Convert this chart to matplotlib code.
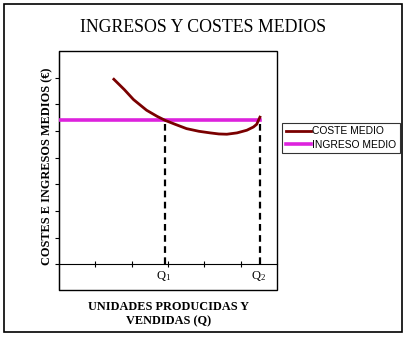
import numpy as np
import matplotlib
matplotlib.use("Agg")
import matplotlib.pyplot as plt
from matplotlib.patches import Rectangle

plt.rcParams['mathtext.fontset'] = 'custom'
plt.rcParams['mathtext.rm'] = 'Liberation Serif'
plt.rcParams['mathtext.it'] = 'Liberation Serif'

# Average cost curve (quantity, cost)
coste_q = [1.51, 1.80, 2.05, 2.41, 2.70, 2.92, 3.20, 3.51, 3.85, 4.16, 4.40, 4.62, 4.90, 5.17, 5.35, 5.44, 5.53]
coste_medio = [6.94, 6.55, 6.18, 5.78, 5.55, 5.40, 5.25, 5.09, 4.99, 4.93, 4.89, 4.88, 4.93, 5.03, 5.15, 5.25, 5.52]

# Average revenue (constant price)
ingreso_q = [0.0, 5.53]
ingreso_medio = [5.40, 5.40]

# Quantities where revenue meets cost
q_puntos = [2.92, 5.53]
q_labels = [r'Q$_1$', r'Q$_2$']

W, H = 408, 337
fig = plt.figure(figsize=(W / 100, H / 100), dpi=100)

# outer chart border
fig.patches.append(Rectangle((4 / W, 1 - 332 / H), 398 / W, 328 / H, transform=fig.transFigure,
                             fill=False, edgecolor='black', linewidth=1.2))

ax = fig.add_axes([59 / W, 1 - 290 / H, 218 / W, 239 / H])
ax.set_xlim(0, 6)
ax.set_ylim(-0.96, 8)

ax.plot(ingreso_q, ingreso_medio, color='#DD22DD', linewidth=2.6, label='INGRESO MEDIO', zorder=3)
ax.plot(coste_q, coste_medio, color='#7A0000', linewidth=2.0, label='COSTE MEDIO', zorder=4)

for q in q_puntos:
    ax.vlines(q, 0, ingreso_medio[0], colors='black', linestyles=(0, (3, 2)), linewidth=1.6, zorder=2)

# x axis at zero, plot area frame around everything
ax.spines['bottom'].set_position(('data', 0))
ax.spines['top'].set_visible(False)
ax.spines['right'].set_visible(False)
ax.add_patch(Rectangle((0, 0), 1, 1, transform=ax.transAxes, fill=False,
                       edgecolor='black', linewidth=1.0, clip_on=False))

ax.set_yticks(range(0, 8))
ax.set_xticks(range(1, 6))
ax.set_yticklabels([])
ax.set_xticklabels([])
ax.tick_params(axis='y', direction='out', length=3, width=0.8)
ax.tick_params(axis='x', direction='inout', length=5, width=0.8)

for q, lab in zip(q_puntos, q_labels):
    ax.text(q - 0.03, -0.45, lab, ha='center', va='center', fontsize=9,
            family='Liberation Serif')

fig.text(203 / W, 1 - 27 / H, 'INGRESOS Y COSTES MEDIOS', ha='center', va='center',
         family='Liberation Serif', fontsize=12.8)
fig.text(47 / W, 1 - 166 / H, 'COSTES E INGRESOS MEDIOS (€)', rotation=90, ha='center', va='center',
         family='Liberation Serif', fontweight='bold', fontsize=8.8)
fig.text(169 / W, 1 - 314 / H, 'UNIDADES PRODUCIDAS Y\nVENDIDAS (Q)', ha='center', va='center',
         family='Liberation Serif', fontweight='bold', fontsize=8.8, linespacing=1.3)

handles, labels = ax.get_legend_handles_labels()
leg = fig.legend(handles[::-1], labels[::-1], loc='center', bbox_to_anchor=(341 / W, 1 - 138 / H),
                 frameon=True, fancybox=False, edgecolor='black',
                 prop={'family': 'Liberation Sans', 'size': 7.4}, handlelength=2.4, handletextpad=0.1,
                 borderpad=0.35, labelspacing=0.35, borderaxespad=0)
leg.get_frame().set_linewidth(0.8)

fig.savefig('out.png', dpi=100)
